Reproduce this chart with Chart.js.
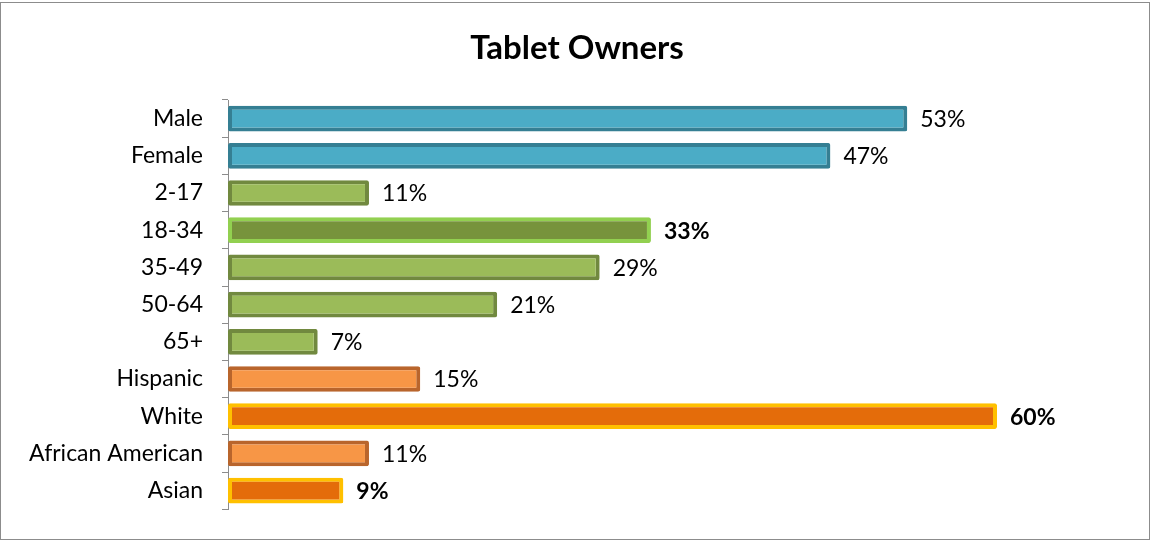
<!DOCTYPE html>
<html>
<head>
<meta charset="utf-8">
<title>Tablet Owners</title>
<script src="https://cdn.jsdelivr.net/npm/chart.js@4.4.1/dist/chart.umd.min.js"></script>
<style>
  body { margin: 0; background: #fff; }
  canvas { display: block; }
</style>
</head>
<body>
<canvas id="mycanvas" width="1151" height="542"></canvas>
<script>
// owner share by group, in percent
var groups = ['Male', 'Female', '2-17', '18-34', '35-49', '50-64', '65+',
              'Hispanic', 'White', 'African American', 'Asian'];
var shares = [53, 47, 11, 33, 29, 21, 7, 15, 60, 11, 9];
var axisMax = 60;
var chartTitle = 'Tablet Owners';

// colours per bar: gender blue, age green, ethnicity orange; peaks highlighted
var blue = '#4bacc6', blueEdge = '#357f93';
var green = '#9bbb59', greenEdge = '#71893f';
var orange = '#f79646', orangeEdge = '#b9652c';
var barFill = [blue, blue, green, '#77933c', green, green, green,
               orange, '#e46c0a', orange, '#e46c0a'];
var barEdge = [blueEdge, blueEdge, greenEdge, '#92d050', greenEdge, greenEdge, greenEdge,
               orangeEdge, '#ffc000', orangeEdge, '#ffc000'];
var boldLabel = [false, false, false, true, false, false, false, false, true, false, true];

var font = 'Lato, "Open Sans", sans-serif';

// outer frame and title, centred on the whole canvas
var frame = {
  id: 'frame',
  beforeDraw: function(chart) {
    var c = chart.ctx;
    c.save();
    c.fillStyle = '#fff';
    c.fillRect(0, 0, chart.width, chart.height);
    c.strokeStyle = '#8c8c8c';
    c.lineWidth = 1;
    c.strokeRect(0.5, 2.5, chart.width - 2, chart.height - 5);
    c.fillStyle = '#000';
    c.font = 'bold 33px ' + font;
    c.textAlign = 'center';
    c.textBaseline = 'middle';
    c.fillText(chartTitle, 577, 48);
    c.restore();
  }
};

// percentage text at the end of each bar
var valueLabels = {
  id: 'valueLabels',
  afterDatasetsDraw: function(chart) {
    var c = chart.ctx;
    var meta = chart.getDatasetMeta(0);
    c.save();
    c.textBaseline = 'middle';
    c.textAlign = 'left';
    c.fillStyle = '#000';
    meta.data.forEach(function(bar, i) {
      c.font = (boldLabel[i] ? 'bold ' : '') + '23px ' + font;
      c.fillText(shares[i] + '%', bar.x + 13, bar.y + 1);
    });
    c.restore();
  }
};

var ctx = document.getElementById('mycanvas');

var barGraph = new Chart(ctx, {
  type: 'bar',
  data: {
    labels: groups,
    datasets: [{
      data: shares,
      backgroundColor: barFill,
      borderColor: barEdge,
      borderWidth: 4,
      borderRadius: 2,
      borderSkipped: false,
      barPercentage: 0.69,
      categoryPercentage: 1,
      clip: false
    }]
  },
  options: {
    indexAxis: 'y',
    responsive: false,
    animation: false,
    layout: { padding: { left: 0, top: 100, right: 154, bottom: 32 } },
    plugins: {
      legend: { display: false },
      tooltip: { enabled: false },
      title: { display: false }
    },
    scales: {
      x: {
        display: false,
        min: 0,
        max: axisMax
      },
      y: {
        afterFit: function(scale) { scale.width = 228; },
        grid: {
          offset: true,
          drawOnChartArea: false,
          tickLength: 6,
          color: '#8c8c8c'
        },
        border: { color: '#8c8c8c', width: 1 },
        ticks: {
          color: '#000',
          padding: 19,
          font: { family: font, size: 23 }
        }
      }
    }
  },
  plugins: [frame, valueLabels]
});
</script>
</body>
</html>
